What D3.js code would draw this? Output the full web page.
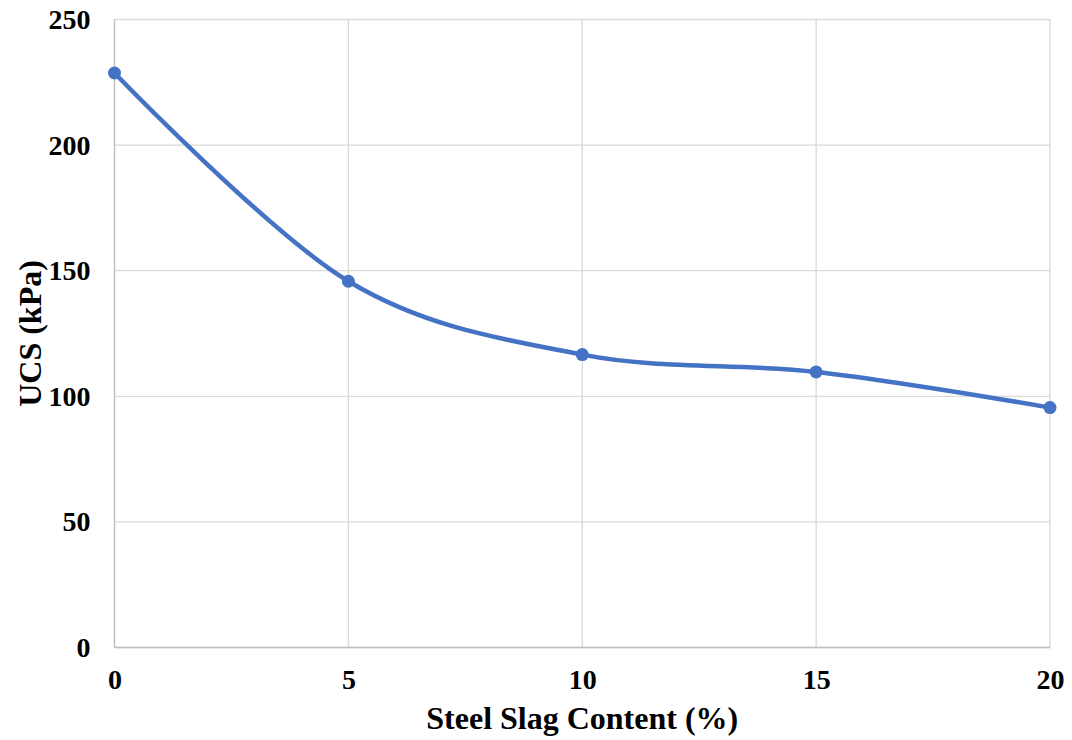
<!DOCTYPE html>
<html>
<head>
  <style>
    body { margin: 0; background: #fff; }
    text { font-family: "Liberation Serif", "Times New Roman", serif; font-weight: bold; fill: #000; }
  </style>
  <script src="https://d3js.org/d3.v7.min.js"></script>
</head>
<body>
  <div id="chart"></div>
  <script>
    // data
    var slagContent = [0, 5, 10, 15, 20];
    var ucsValues = [228.7, 145.8, 116.6, 109.7, 95.5];
    var xTicks = [0, 5, 10, 15, 20];
    var yTicks = [0, 50, 100, 150, 200, 250];

    var width = 1072, height = 740;
    var margin = { top: 19.5, right: 22, bottom: 92.5, left: 114.5 };
    var w = width - margin.left - margin.right;
    var h = height - margin.top - margin.bottom;

    var svg = d3.select("#chart").append("svg")
      .attr("width", width)
      .attr("height", height);

    var g = svg.append("g")
      .attr("transform", "translate(" + margin.left + "," + margin.top + ")");

    var x = d3.scaleLinear().domain([0, 20]).range([0, w]);
    var y = d3.scaleLinear().domain([0, 250]).range([h, 0]);

    // gridlines
    g.selectAll(".hgrid").data(yTicks).enter().append("line")
      .attr("x1", 0).attr("x2", w)
      .attr("y1", function(d) { return y(d); })
      .attr("y2", function(d) { return y(d); })
      .attr("stroke", "#d9d9d9").attr("stroke-width", 1.3);

    g.selectAll(".vgrid").data(xTicks).enter().append("line")
      .attr("x1", function(d) { return x(d); })
      .attr("x2", function(d) { return x(d); })
      .attr("y1", 0).attr("y2", h)
      .attr("stroke", "#d9d9d9").attr("stroke-width", 1.3);

    // axis lines
    g.append("line").attr("x1", 0).attr("x2", 0).attr("y1", 0).attr("y2", h)
      .attr("stroke", "#bfbfbf").attr("stroke-width", 1.3);
    g.append("line").attr("x1", 0).attr("x2", w).attr("y1", h).attr("y2", h)
      .attr("stroke", "#bfbfbf").attr("stroke-width", 1.3);

    // tick labels
    var yAxis = d3.axisLeft(y).tickValues(yTicks).tickSize(0).tickPadding(24);
    var gy = g.append("g").call(yAxis);
    gy.select(".domain").remove();
    gy.selectAll("text").style("font-size", "28px").attr("font-family", null);

    var xAxis = d3.axisBottom(x).tickValues(xTicks).tickSize(0).tickPadding(22);
    var gx = g.append("g").attr("transform", "translate(0," + h + ")").call(xAxis);
    gx.select(".domain").remove();
    gx.selectAll("text").style("font-size", "28px").attr("font-family", null);

    // series
    var pts = slagContent.map(function(d, i) { return [d, ucsValues[i]]; });
    var line = d3.line()
      .x(function(d) { return x(d[0]); })
      .y(function(d) { return y(d[1]); })
      .curve(d3.curveCardinal.tension(0));

    g.append("path").datum(pts)
      .attr("d", line)
      .attr("fill", "none")
      .attr("stroke", "#4472c4")
      .attr("stroke-width", 4.5);

    g.selectAll(".pt").data(pts).enter().append("circle")
      .attr("cx", function(d) { return x(d[0]); })
      .attr("cy", function(d) { return y(d[1]); })
      .attr("r", 6.5)
      .attr("fill", "#4472c4");

    // axis titles
    svg.append("text")
      .attr("x", margin.left + w / 2).attr("y", 729)
      .attr("text-anchor", "middle")
      .style("font-size", "32px")
      .text("Steel Slag Content (%)");

    svg.append("text")
      .attr("transform", "translate(41," + (margin.top + h / 2) + ") rotate(-90)")
      .attr("text-anchor", "middle")
      .style("font-size", "32px")
      .text("UCS (kPa)");
  </script>
</body>
</html>
